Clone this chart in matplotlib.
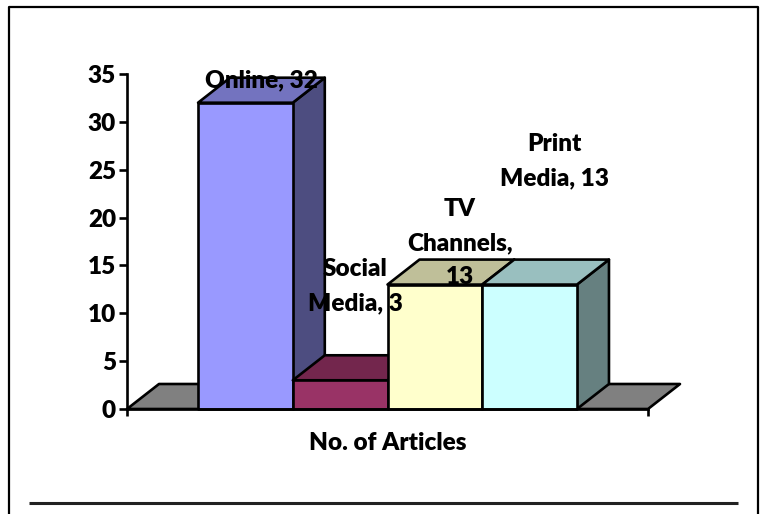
import matplotlib
matplotlib.use('Agg')
import matplotlib.pyplot as plt
from matplotlib.patches import Polygon
from matplotlib.lines import Line2D

# data
articles = [32, 3, 13, 13]
yticks = [0, 5, 10, 15, 20, 25, 30, 35]
labels = ['Online, 32', 'Social\nMedia, 3', 'TV\nChannels,\n13', 'Print\nMedia, 13']

front_colors = ['#9999FF', '#993366', '#FFFFCC', '#CCFFFF']
top_colors = ['#7373BF', '#73264D', '#BFBF99', '#99BFBF']
side_colors = ['#4D4D80', '#4D1A33', '#808066', '#668080']

W, H = 766, 514
plt.rcParams['font.family'] = ['Lato', 'DejaVu Sans']
plt.rcParams['font.weight'] = 'heavy'

fig = plt.figure(figsize=(W / 100, H / 100), dpi=100)
ax = fig.add_axes([127 / W, 1 - 409 / H, (648 - 127) / W, (409 - 74) / H])
ax.set_xlim(-0.75, 4.75)
ax.set_ylim(0, 35)

LW = 1.9
FS = 17.5
dx = 32 / 94.7   # depth of the fake 3d, in data units
dy = 25 / 9.57


def face(pts, color, z):
    ax.add_patch(Polygon(pts, closed=True, facecolor=color, edgecolor='black',
                         linewidth=LW, joinstyle='round', clip_on=False, zorder=z))


# floor
face([(-0.75, 0), (4.75, 0), (4.75 + dx, dy), (-0.75 + dx, dy)], '#808080', 1)

# bars, left to right so each one covers the side of the one before
for i, v in enumerate(articles):
    z = 2 + i
    face([(i + 1, 0), (i + 1 + dx, dy), (i + 1 + dx, v + dy), (i + 1, v)], side_colors[i], z)
    face([(i, v), (i + 1, v), (i + 1 + dx, v + dy), (i + dx, v + dy)], top_colors[i], z)
    face([(i, 0), (i + 1, 0), (i + 1, v), (i, v)], front_colors[i], z)

# data labels
label_offsets = [(15.5, 22), (15, 94), (25, 41.5), (25, 123)]  # px from bar top centre
for i, (lab, off) in enumerate(zip(labels, label_offsets)):
    ax.annotate(lab, xy=(i + 0.5, articles[i]), xytext=off, textcoords='offset pixels',
                ha='center', va='center', fontsize=FS, fontweight='heavy',
                linespacing=1.68, zorder=20, annotation_clip=False)

# axes
for s in ['top', 'right']:
    ax.spines[s].set_visible(False)
ax.spines['left'].set_linewidth(LW)
ax.spines['bottom'].set_linewidth(LW)
ax.spines['bottom'].set_zorder(15)
ax.spines['left'].set_zorder(15)
ax.patch.set_visible(False)
ax.set_yticks(yticks)
ax.tick_params(axis='y', labelsize=FS, length=6, width=LW, pad=2)
ax.set_xticks([-0.75, 4.75])
ax.set_xticklabels(['', ''])
ax.tick_params(axis='x', length=5, width=LW)
ax.set_xlabel('No. of Articles', fontsize=FS, fontweight='heavy', labelpad=8)

# page frame and the rule under the chart
fig.add_artist(Line2D([9 / W, 9 / W, 758 / W, 758 / W], [0, 1 - 7 / H, 1 - 7 / H, 0],
                      color='black', linewidth=1.6))
fig.add_artist(Line2D([29 / W, 738 / W], [1 - 502.5 / H, 1 - 502.5 / H],
                      color='#222222', linewidth=2.2, solid_capstyle='butt'))

fig.savefig('out.png', dpi=100)
